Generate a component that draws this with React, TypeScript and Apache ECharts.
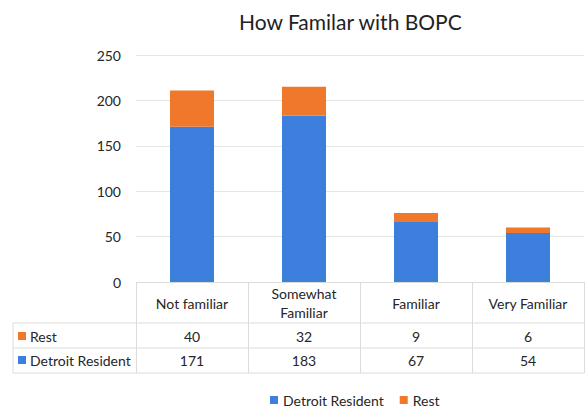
import React, { useEffect, useRef } from "react";
import * as echarts from "echarts";

const categories = ["Not familiar", "Somewhat\nFamiliar", "Familiar", "Very Familiar"];
const detroitResident = [171, 183, 67, 54];
const rest = [40, 32, 9, 6];
const yTicks = { min: 0, max: 250, interval: 50 };

const BLUE = "#3d7fdc";
const ORANGE = "#f0782a";
const FONT = "Lato";
const TEXT = "#262626";
const LINE = "#dcdcdc";

export default function App() {
  const ref = useRef<HTMLDivElement>(null);
  useEffect(() => {
    if (!ref.current) return;
    const chart = echarts.init(ref.current, null, { renderer: "svg" });
    const gridLeft = 136;
    const gridRight = 3;
    const gridTop = 55;
    const gridBottom = 132;
    const axisY = 414 - gridBottom; // 282
    const tableLeft = 13;
    const tableRight = 587 - gridRight;
    const rowLines = [axisY + 41, axisY + 66, axisY + 91];

    const valueAxis = (values: number[], margin: number) => ({
      type: "category",
      data: categories,
      position: "bottom",
      gridIndex: 0,
      axisLine: { show: false },
      axisTick: { show: false },
      axisLabel: {
        margin,
        verticalAlign: "middle",
        fontFamily: FONT,
        fontSize: 14,
        color: TEXT,
        formatter: (_v: string, i: number) => String(values[i]),
      },
    });

    chart.setOption({
      animation: false,
      title: {
        text: "How Familar with BOPC",
        left: 234,
        top: 6,
        textStyle: { fontFamily: FONT, fontSize: 21, fontWeight: "normal", color: "#222" },
      },
      legend: {
        left: 265,
        top: 388,
        icon: "rect",
        itemWidth: 8,
        itemHeight: 8,
        itemGap: 16,
        textStyle: { fontFamily: FONT, fontSize: 14, color: TEXT },
        data: ["Detroit Resident", "Rest"],
      },
      grid: { left: gridLeft, right: gridRight, top: gridTop, bottom: gridBottom, containLabel: false },
      xAxis: [
        {
          type: "category",
          data: categories,
          position: "bottom",
          axisLine: { show: true, lineStyle: { color: LINE } },
          axisTick: { show: true, length: 91, lineStyle: { color: LINE } },
          axisLabel: {
            margin: 21,
            verticalAlign: "middle",
            fontFamily: FONT,
            fontSize: 14,
            lineHeight: 19,
            color: TEXT,
            align: "center",
          },
        },
        valueAxis(rest, 54),
        valueAxis(detroitResident, 78),
      ],
      yAxis: {
        type: "value",
        min: yTicks.min,
        max: yTicks.max,
        interval: yTicks.interval,
        axisLine: { show: false },
        axisTick: { show: false },
        axisLabel: { margin: 15, fontFamily: FONT, fontSize: 14, color: TEXT },
        splitLine: { lineStyle: { color: "#e6e6e6" } },
      },
      series: [
        {
          name: "Detroit Resident",
          type: "bar",
          stack: "total",
          xAxisIndex: 0,
          barWidth: 44,
          itemStyle: { color: BLUE },
          data: detroitResident,
        },
        {
          name: "Rest",
          type: "bar",
          stack: "total",
          xAxisIndex: 0,
          barWidth: 44,
          itemStyle: { color: ORANGE },
          data: rest,
        },
      ],
      graphic: [
        ...rowLines.map((y) => ({
          type: "line",
          shape: { x1: tableLeft, y1: y, x2: tableRight, y2: y },
          style: { stroke: LINE, lineWidth: 1 },
        })),
        {
          type: "line",
          shape: { x1: tableLeft, y1: rowLines[0], x2: tableLeft, y2: rowLines[2] },
          style: { stroke: LINE, lineWidth: 1 },
        },
        {
          type: "rect",
          shape: { x: 18, y: axisY + 50, width: 8, height: 8 },
          style: { fill: ORANGE },
        },
        {
          type: "text",
          x: 30,
          y: axisY + 54,
          style: { text: "Rest", fontFamily: FONT, fontSize: 14, fill: TEXT, verticalAlign: "middle" },
        },
        {
          type: "rect",
          shape: { x: 18, y: axisY + 74, width: 8, height: 8 },
          style: { fill: BLUE },
        },
        {
          type: "text",
          x: 30,
          y: axisY + 78,
          style: { text: "Detroit Resident", fontFamily: FONT, fontSize: 14, fill: TEXT, verticalAlign: "middle" },
        },
      ],
    });
    return () => chart.dispose();
  }, []);
  return (
    <div
      ref={ref}
      style={{ position: "absolute", left: 0, top: 0, width: 587, height: 414, background: "#fff" }}
    />
  );
}
